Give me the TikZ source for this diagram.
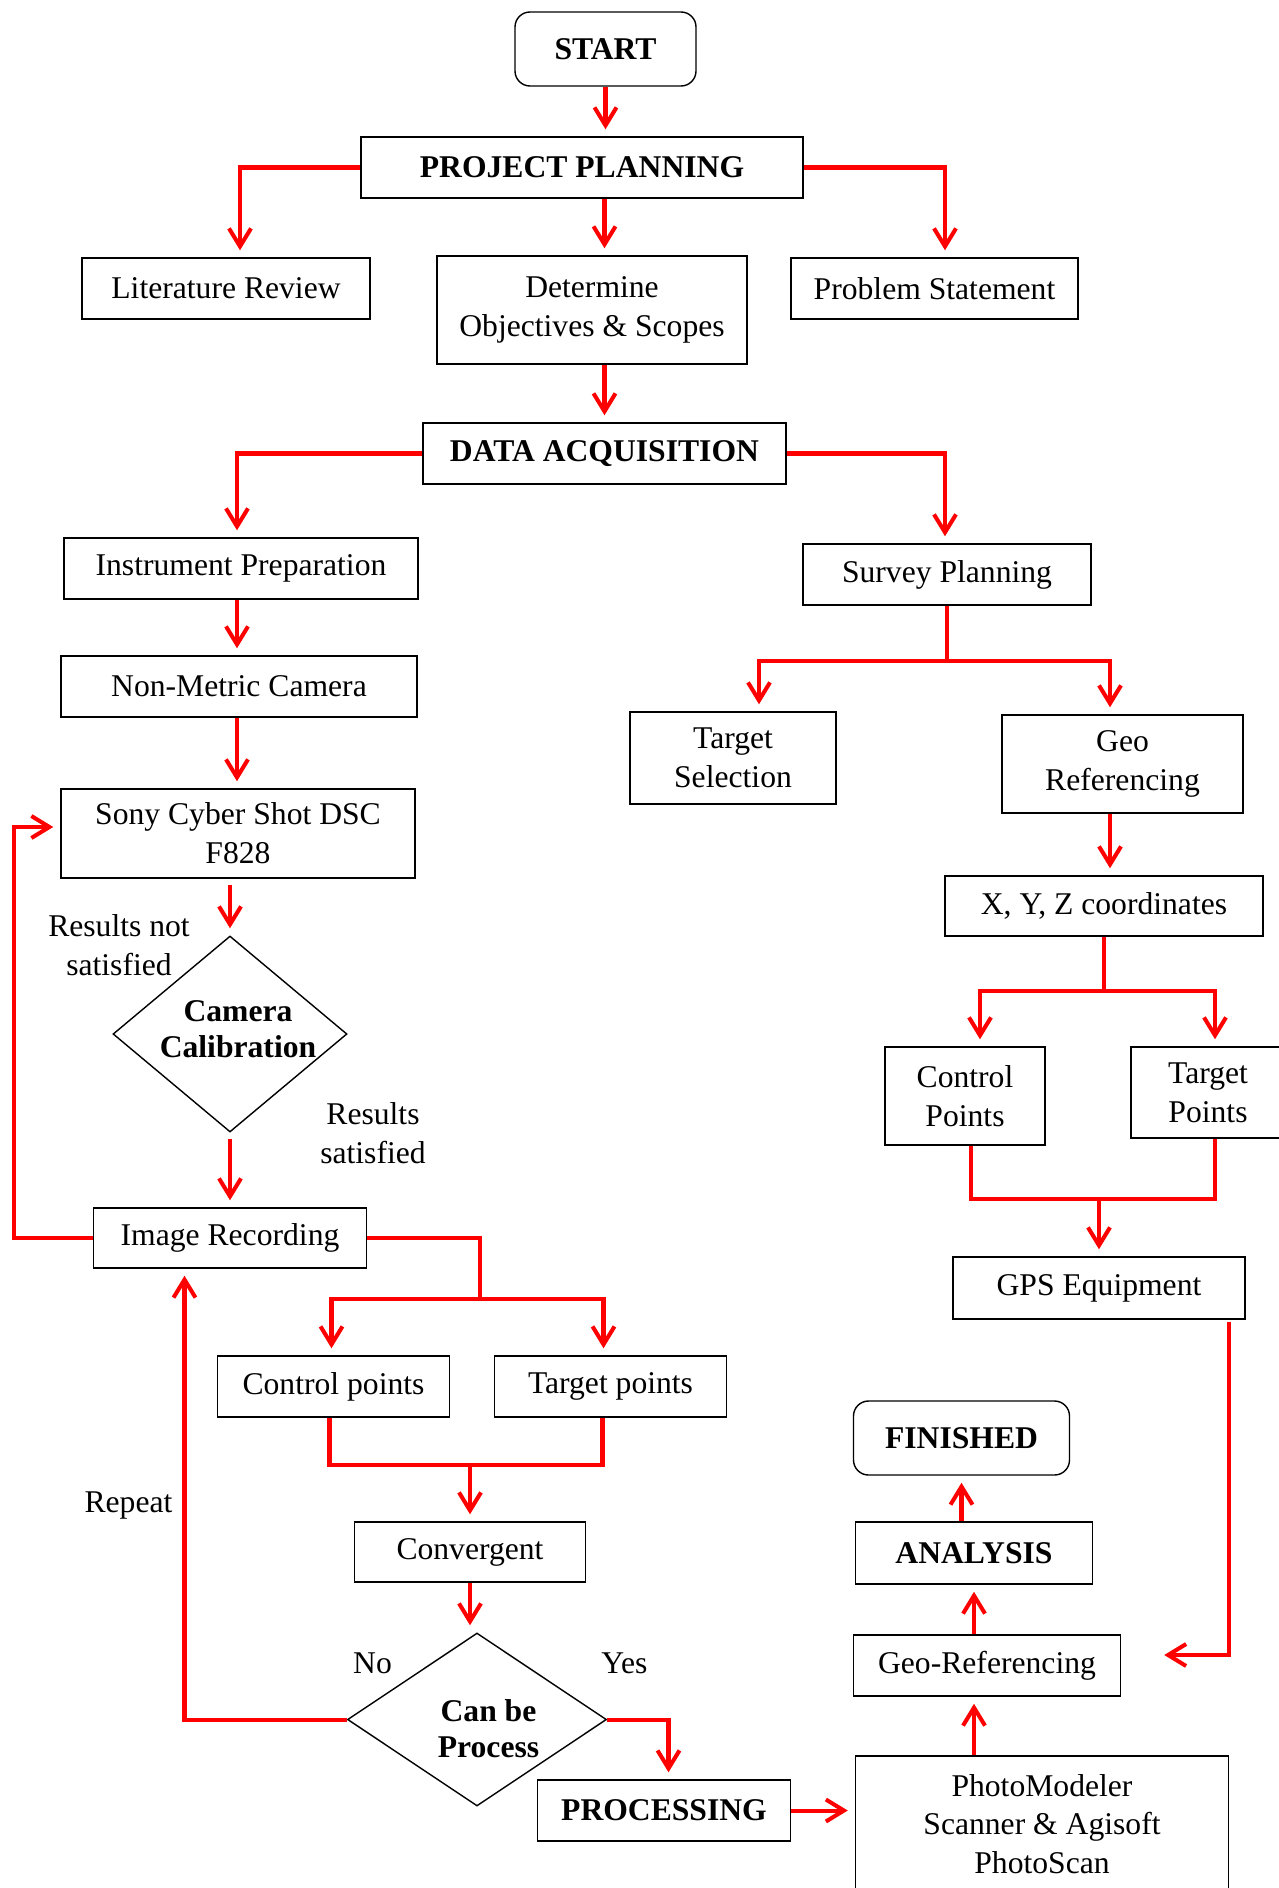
\documentclass[tikz,border=0pt]{standalone}
\usepackage{fontspec}
\setmainfont{Liberation Serif}
\usetikzlibrary{shapes.geometric,arrows.meta}

\begin{document}
\begin{tikzpicture}[auto, node distance=2cm, >={Straight Barb[length=0.36cm,width=0.44cm]},
    font=\fontsize{18}{22}\selectfont,
    block/.style={draw, line width=0.8pt, rectangle, minimum height=1.22cm, align=center, inner sep=2pt},
    headbox/.style={block, font=\fontsize{18}{22}\selectfont\bfseries},
    terminal/.style={headbox, rounded corners=0.3cm, minimum height=1.48cm},
    decision/.style={draw, line width=0.8pt, diamond, inner sep=0pt},
    note/.style={align=center},
    boldnote/.style={align=center, font=\fontsize{18}{20.5}\selectfont\bfseries},
    wire/.style={draw=red, line width=2.3pt},
    flow/.style={wire, ->, shorten >=4pt}]

    \useasboundingbox (0,0) rectangle (25.58,-37.76);

    % Nodes
    \node [terminal, minimum width=3.62cm] (start) at (12.11,-0.98) {START};
    \node [headbox, below of=start, node distance=2.37cm, xshift=-0.47cm, minimum width=8.84cm] (plan) {PROJECT PLANNING};
    \node [block, below of=plan, node distance=2.42cm, xshift=-7.12cm, minimum width=5.76cm] (lit) {Literature Review};
    \node [block, below of=plan, node distance=2.85cm, xshift=0.2cm, minimum width=6.2cm, minimum height=2.16cm] (obj) {Determine\\Objectives \& Scopes};
    \node [block, below of=plan, node distance=2.42cm, xshift=7.05cm, minimum width=5.74cm] (prob) {Problem Statement};
    \node [headbox, below of=obj, node distance=2.87cm, xshift=0.25cm, minimum width=7.26cm] (acq) {DATA ACQUISITION};

    % Camera side
    \node [block, below of=acq, node distance=2.3cm, xshift=-7.27cm, minimum width=7.08cm] (instr) {Instrument Preparation};
    \node [block, below of=instr, node distance=2.36cm, xshift=-0.04cm, minimum width=7.12cm] (camera) {Non-Metric Camera};
    \node [block, below of=camera, node distance=2.94cm, xshift=-0.02cm, minimum width=7.08cm, minimum height=1.78cm] (sony) {Sony Cyber Shot DSC\\F828};
    \node [decision, below of=sony, node distance=4.01cm, xshift=-0.16cm, minimum width=4.68cm, minimum height=3.92cm] (calib) {};
    \node [boldnote, xshift=0.16cm, yshift=0.1cm] (calibtxt) at (calib) {Camera\\Calibration};
    \node [block, below of=calib, node distance=4.08cm, minimum width=5.46cm, minimum height=1.2cm] (imgrec) {Image Recording};
    \node [block, below of=imgrec, node distance=2.97cm, xshift=2.07cm, minimum width=4.64cm] (ctrlpts) {Control points};
    \node [block, right of=ctrlpts, node distance=5.54cm, minimum width=4.64cm] (tgtpts) {Target points};
    \node [block, below of=ctrlpts, node distance=3.31cm, xshift=2.73cm, minimum width=4.62cm, minimum height=1.2cm] (converg) {Convergent};
    \node [decision, below of=converg, node distance=3.35cm, xshift=0.14cm, minimum width=5.18cm, minimum height=3.46cm] (canproc) {};
    \node [boldnote, xshift=0.23cm, yshift=-0.19cm] (canproctxt) at (canproc) {Can be\\Process};
    \node [headbox, below of=canproc, node distance=1.82cm, xshift=3.74cm, minimum width=5.06cm] (processing) {PROCESSING};
    \node [block, right of=processing, node distance=7.56cm, yshift=-0.27cm, minimum width=7.46cm, minimum height=2.72cm] (photomod) {PhotoModeler\\Scanner \& Agisoft\\PhotoScan};
    \node [block, above of=photomod, node distance=3.17cm, xshift=-1.1cm, minimum width=5.34cm] (georef) {Geo-Referencing};
    \node [headbox, above of=georef, node distance=2.25cm, xshift=-0.26cm, minimum width=4.74cm, minimum height=1.24cm] (analysis) {ANALYSIS};
    \node [terminal, above of=analysis, node distance=2.3cm, xshift=-0.25cm, minimum width=4.32cm] (finished) {FINISHED};

    % Survey side
    \node [block, below of=acq, node distance=2.42cm, xshift=6.85cm, minimum width=5.76cm] (survey) {Survey Planning};
    \node [block, below of=survey, node distance=3.67cm, xshift=-4.28cm, minimum width=4.12cm, minimum height=1.84cm] (tgtsel) {Target\\Selection};
    \node [block, below of=survey, node distance=3.79cm, xshift=3.51cm, minimum width=4.82cm, minimum height=1.96cm] (georef1) {Geo\\Referencing};
    \node [block, below of=georef1, node distance=2.84cm, xshift=-0.37cm, minimum width=6.36cm, minimum height=1.2cm] (xyz) {X, Y, Z coordinates};
    \node [block, below of=xyz, node distance=3.8cm, xshift=-2.78cm, minimum width=3.2cm, minimum height=1.96cm] (ctrlP) {Control\\Points};
    \node [block, below of=xyz, node distance=3.73cm, xshift=2.08cm, minimum width=3.08cm, minimum height=1.82cm] (tgtP) {Target\\Points};
    \node [block, below of=xyz, node distance=7.64cm, xshift=-0.1cm, minimum width=5.84cm, minimum height=1.24cm] (gps) {GPS Equipment};

    % Labels
    \node [note, left of=calib, node distance=2.22cm, yshift=1.78cm] (notsat) {Results not\\satisfied};
    \node [note, right of=calib, node distance=2.86cm, yshift=-1.98cm] (sat) {Results\\satisfied};
    \node [note, left of=imgrec, node distance=2.03cm, yshift=-5.34cm] (repeatlbl) {Repeat};
    \node [note, left of=canproc, node distance=2.09cm, yshift=1.13cm] (nolbl) {No};
    \node [note, right of=canproc, node distance=2.95cm, yshift=1.13cm] (yeslbl) {Yes};

    % Arrows
    \draw [flow] (start.south) -- (start.south |- plan.north);
    \draw [flow] (plan.west) -| ([xshift=0.28cm]lit.north);
    \draw [flow] (plan.south -| acq) -- (obj.north -| acq);
    \draw [flow] (plan.east) -| ([xshift=0.21cm]prob.north);
    \draw [flow] (obj.south -| acq) -- (acq.north);
    \draw [flow] (acq.west) -| ([xshift=-0.08cm]instr.north);
    \draw [flow] (acq.east) -| ([xshift=-0.04cm]survey.north);

    % Camera loop
    \draw [flow] ([xshift=-0.08cm]instr.south) -- ([xshift=-0.08cm]instr.south |- camera.north);
    \draw [flow] ([xshift=-0.04cm]camera.south) -- ([xshift=-0.04cm]camera.south |- sony.north);
    \draw [flow] ([yshift=-0.12cm]sony.south -| calib) -- (calib.north);
    \draw [flow] ([yshift=-0.12cm]calib.south) -- (imgrec.north);
    \draw [flow] (imgrec.west) -- ++(-1.58,0) |- ([yshift=0.13cm]sony.west);
    \draw [wire] (imgrec.east) -| ++(2.26,-1.22) coordinate (split1);
    \draw [flow] (split1) -| ([xshift=-0.04cm]ctrlpts.north);
    \draw [flow] (split1) -| ([xshift=-0.14cm]tgtpts.north);
    \draw [wire] ([xshift=-0.08cm]ctrlpts.south) -- ++(0,-0.94) coordinate (merge1) -| ([xshift=-0.16cm]tgtpts.south);
    \draw [flow] (merge1 -| converg) -- (converg.north);
    \draw [flow] (converg.south) -- (converg.south |- canproc.north);
    \draw [flow] (canproc.west) -| ([xshift=-0.91cm]imgrec.south);
    \draw [flow] (canproc.east) -| ([xshift=0.09cm]processing.north);
    \draw [flow] (processing.east) -- (processing.east -| photomod.west);
    \draw [flow] (photomod.north -| analysis) -- (georef.south -| analysis);
    \draw [flow] (georef.north -| analysis) -- (analysis.south);
    \draw [flow] (analysis.north -| finished) -- (finished.south);

    % Survey branch
    \draw [wire] (survey.south) -- ++(0,-1.1) coordinate (split2);
    \draw [flow] (split2) -| ([xshift=0.52cm]tgtsel.north);
    \draw [flow] (split2) -| ([xshift=-0.25cm]georef1.north);
    \draw [flow] ([xshift=-0.25cm]georef1.south) -- ([xshift=-0.25cm]georef1.south |- xyz.north);
    \draw [wire] (xyz.south) -- ++(0,-1.08) coordinate (split3);
    \draw [flow] (split3) -| ([xshift=0.3cm]ctrlP.north);
    \draw [flow] (split3) -| ([xshift=0.14cm]tgtP.north);
    \draw [wire] ([xshift=0.12cm]ctrlP.south) -- ++(0,-1.06) coordinate (merge2) -| ([xshift=0.14cm]tgtP.south);
    \draw [flow] (merge2 -| gps) -- (gps.north);
    \draw [flow] ([xshift=-0.34cm,yshift=-0.04cm]gps.south east) |- ([xshift=0.72cm,yshift=0.21cm]georef.east);

\end{tikzpicture}
\end{document}
